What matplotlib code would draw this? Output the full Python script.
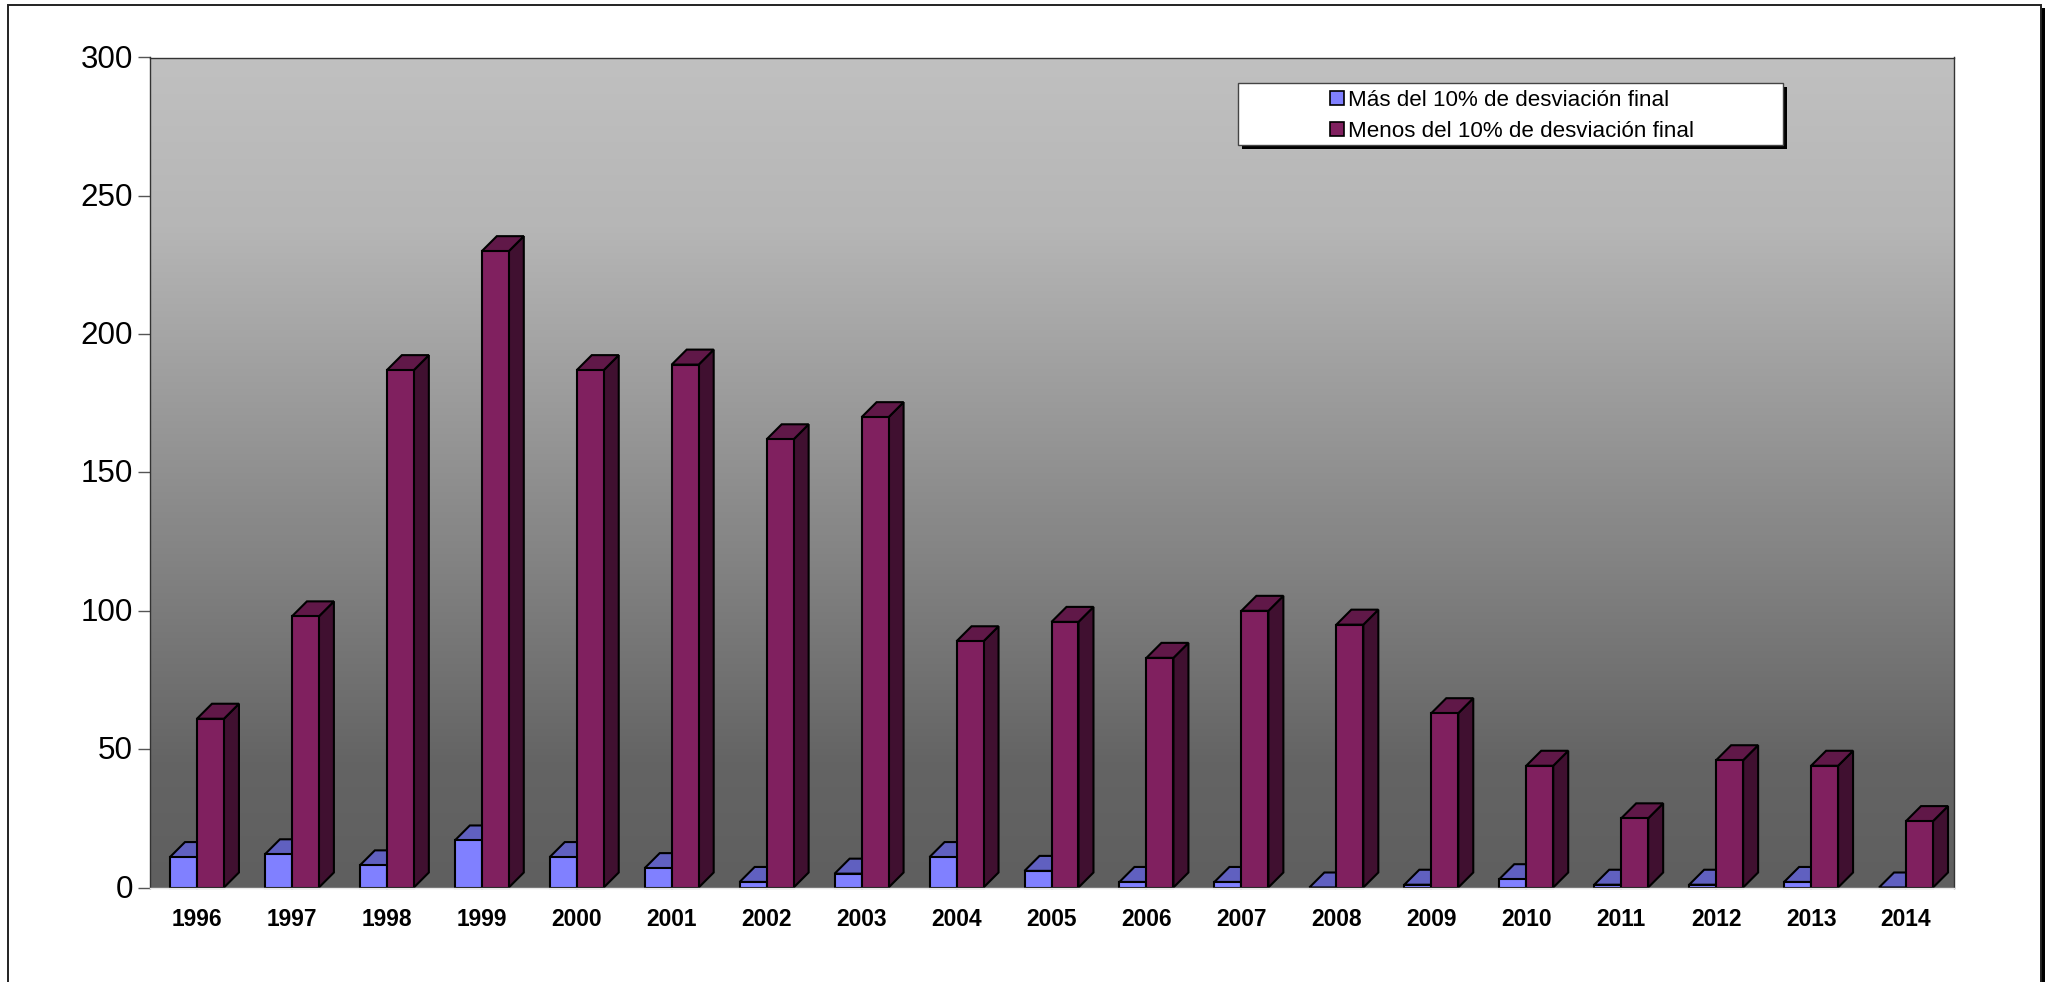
import numpy as np
import matplotlib
matplotlib.use("Agg")
import matplotlib.pyplot as plt
from matplotlib.patches import Patch, Rectangle
from matplotlib.lines import Line2D
from matplotlib.colors import LinearSegmentedColormap
from matplotlib.transforms import ScaledTranslation

years = [1996, 1997, 1998, 1999, 2000, 2001, 2002, 2003, 2004, 2005,
         2006, 2007, 2008, 2009, 2010, 2011, 2012, 2013, 2014]
mas_10 = [11, 12, 8, 17, 11, 7, 2, 5, 11, 6, 2, 2, 0, 1, 3, 1, 1, 2, 0]
menos_10 = [61, 98, 187, 230, 187, 189, 162, 170, 89, 96, 83, 100, 95, 63, 44, 25, 46, 44, 24]
yticks = [0, 50, 100, 150, 200, 250, 300]
label_mas = "Más del 10% de desviación final"
label_menos = "Menos del 10% de desviación final"

W, H = 2051, 982
plt.rcParams['font.family'] = ['Liberation Sans', 'DejaVu Sans']
fig = plt.figure(figsize=(W / 100, H / 100), dpi=100, facecolor='white')
L, R, T, B = 149.5, 1953.5, 57.5, 887.5
ax = fig.add_axes([L / W, 1 - B / H, (R - L) / W, (B - T) / H])
ax.set_xlim(-0.5, len(years) - 0.5)
ax.set_ylim(0, 300)

cmap = LinearSegmentedColormap.from_list(
    'bg', [(0, '#c0c0c0'), (0.2, '#b6b6b6'), (0.85, '#646464'), (1, '#5f5f5f')])
ax.imshow(np.linspace(0, 1, 256).reshape(-1, 1), cmap=cmap, aspect='auto',
          extent=(-0.5, len(years) - 0.5, 0, 300), origin='upper', zorder=0)

bar_w = 27 / 95
dx = 15 / 95
dy = 15 * 300 / (B - T)


def bar3d(x0, v, front, top, side, z):
    x1 = x0 + bar_w
    kw = dict(edgecolor='black', linewidth=1.5, joinstyle='miter', zorder=z, clip_on=False)
    ax.fill([x1, x1 + dx, x1 + dx, x1], [0, dy, v + dy, v], facecolor=side, **kw)
    ax.fill([x0, x0 + dx, x1 + dx, x1], [v, v + dy, v + dy, v], facecolor=top, **kw)
    ax.fill([x0, x1, x1, x0], [0, 0, v, v], facecolor=front, **kw)


for i, (a, b) in enumerate(zip(mas_10, menos_10)):
    bar3d(i - bar_w, a, '#8080ff', '#6060c0', '#404080', 3 + 2 * i)
    bar3d(i, b, '#80205f', '#601848', '#401030', 4 + 2 * i)

ax.set_xticks(range(len(years)), [str(y) for y in years], fontsize=16.4, fontweight='bold')
ax.set_yticks(yticks, [str(t) for t in yticks], fontsize=22.6)
ax.tick_params(axis='x', length=0, pad=15, colors='black')
ax.tick_params(axis='y', length=12.5 * 0.72, width=1.0, color='#555555', pad=3, labelcolor='black')
up = ScaledTranslation(0, 1.5 / 100, fig.dpi_scale_trans)
for lab in ax.get_yticklabels():
    lab.set_transform(lab.get_transform() + up)
for s in ax.spines.values():
    s.set_linewidth(1.0)
    s.set_color('#333333')
    s.set_zorder(60)
ax.spines['bottom'].set_color('#e8e8e8')

# legend box with solid shadow
fig.add_artist(Rectangle((1242 / W, 1 - 148.5 / H), 545 / W, 62 / H, transform=fig.transFigure,
                         facecolor='black', edgecolor='none', zorder=5))
fig.add_artist(Rectangle((1238 / W, 1 - 144.5 / H), 545 / W, 62 / H, transform=fig.transFigure,
                         facecolor='white', edgecolor='#444444', linewidth=1.0, zorder=6))
handles = [Patch(facecolor='#8080ff', edgecolor='black', linewidth=1.2, label=label_mas),
           Patch(facecolor='#80205f', edgecolor='black', linewidth=1.2, label=label_menos)]
leg = fig.legend(handles=handles, loc='upper left', bbox_to_anchor=(1330 / W, 1 - 90 / H),
                 frameon=False, fontsize=16.1, handlelength=0.62, handleheight=0.62,
                 handletextpad=0.2, labelspacing=0.45, borderpad=0, borderaxespad=0)
leg.set_zorder(7)

# outer frame, open at the bottom, with a solid shadow on the right
frame_x = [7.5, 7.5, 2040.5, 2040.5]
frame_y = [982, 5, 5, 982]
fig.add_artist(Rectangle((2041 / W, 0), 4 / W, (H - 8) / H, transform=fig.transFigure,
                         facecolor='black', edgecolor='none'))
fig.add_artist(Line2D([x / W for x in frame_x], [1 - y / H for y in frame_y],
                      transform=fig.transFigure, color='#222222', linewidth=1.4,
                      solid_joinstyle='miter'))

fig.savefig('out.png', dpi=100)
